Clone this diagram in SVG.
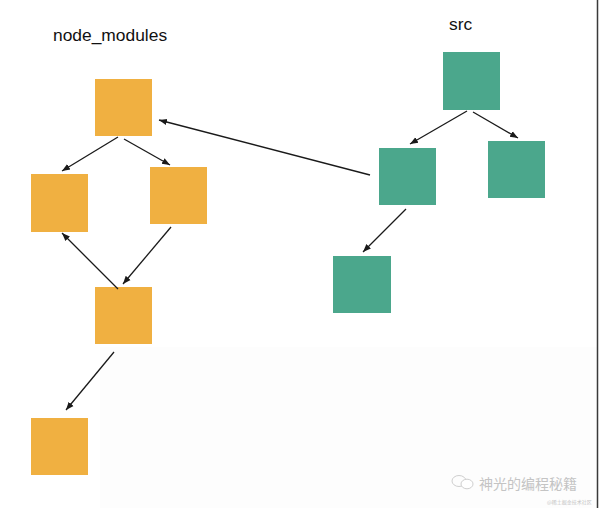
<svg xmlns="http://www.w3.org/2000/svg" width="600" height="508" viewBox="0 0 600 508">
<style>
.o{fill:#F0B041}
.t{fill:#4BA78C}
.lbl{font-family:"Liberation Sans",Arial,sans-serif;font-size:17.4px;fill:#111}
.c line{stroke:#1a1a1a;stroke-width:1.3;marker-end:url(#ah)}
.wm{font-family:"Noto Sans CJK SC",sans-serif;fill:#c4c4c4}
</style>
<defs>
<marker id="ah" markerUnits="userSpaceOnUse" markerWidth="10" markerHeight="8" refX="8" refY="4" orient="auto">
<path d="M0,0.8 L8,4 L0,7.2 Z" fill="#1a1a1a"/>
</marker>
</defs>
<rect width="600" height="508" fill="#ffffff"/>
<rect x="100" y="347" width="497" height="161" fill="#fdfdfd"/>
<line x1="597.5" y1="0" x2="597.5" y2="508" stroke="#3a3a3a" stroke-width="1.5"/>
<text class="lbl" x="53" y="41">node_modules</text>
<text class="lbl" x="449" y="30">src</text>
<g id="o1"><rect class="o" x="95" y="79" width="57" height="57"/></g>
<g id="o2"><rect class="o" x="31" y="174" width="57" height="58"/></g>
<g id="o3"><rect class="o" x="150" y="167" width="57" height="57"/></g>
<g id="o4"><rect class="o" x="95" y="287" width="57" height="57"/></g>
<g id="o5"><rect class="o" x="31" y="418" width="57" height="57"/></g>
<g id="t1"><rect class="t" x="443" y="52" width="57" height="58"/></g>
<g id="t2"><rect class="t" x="379" y="148" width="57" height="57"/></g>
<g id="t3"><rect class="t" x="488" y="141" width="57" height="57"/></g>
<g id="t4"><rect class="t" x="333" y="256" width="58" height="57"/></g>
<g class="c" id="connectors">
<line x1="118" y1="137" x2="62" y2="171"/>
<line x1="124" y1="139" x2="170" y2="165"/>
<line x1="370" y1="175" x2="159" y2="120"/>
<line x1="467" y1="111" x2="410" y2="144"/>
<line x1="473" y1="112" x2="518" y2="138"/>
<line x1="406" y1="209" x2="363" y2="252"/>
<line x1="171" y1="227" x2="123" y2="284"/>
<line x1="118" y1="289" x2="62" y2="233"/>
<line x1="114" y1="352" x2="66" y2="410"/>
</g>
<g id="watermark">
<ellipse cx="459" cy="481" rx="7" ry="5.5" fill="none" stroke="#cfcfcf" stroke-width="1"/>
<ellipse cx="467" cy="484" rx="6" ry="4.8" fill="#fff" stroke="#cfcfcf" stroke-width="1"/>
<text class="wm" x="479" y="489" font-size="14">神光的编程秘籍</text>
<text class="wm" x="547" y="504" font-size="5" fill="#999">@稀土掘金技术社区</text>
</g>
</svg>
